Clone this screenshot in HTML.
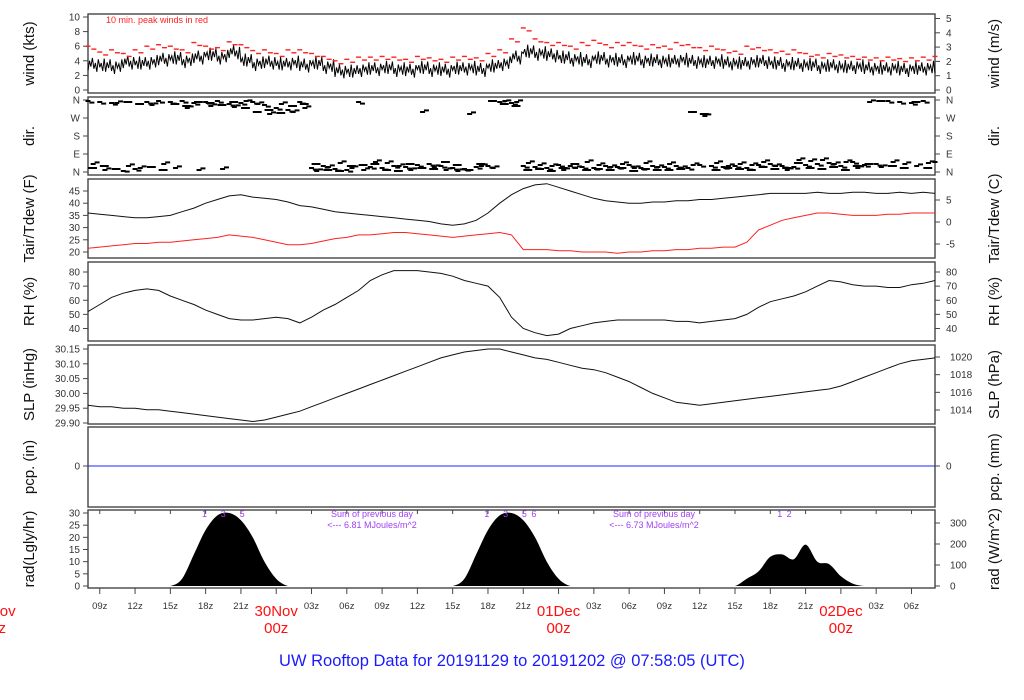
<!DOCTYPE html>
<html><head><meta charset="utf-8">
<style>
html,body{margin:0;padding:0;background:#fff;}
svg{display:block;font-family:"Liberation Sans",sans-serif;}
</style></head>
<body>
<svg id="chart" width="1024" height="700" viewBox="0 0 1024 700" xmlns="http://www.w3.org/2000/svg">
<text x="512" y="666" text-anchor="middle" font-size="16.5" fill="#1a1aff">UW Rooftop Data for 20191129  to  20191202 @ 07:58:05  (UTC)</text>
<text x="106" y="23" font-size="9" fill="#ff2020">10 min. peak winds in red</text>
</svg>
<script>
// hourly data from 08z 29 Nov (index 0) to 08z 02 Dec (index 72)
const windMean = [3.5,3.3,3.2,3.8,3.6,3.8,4.2,4.3,4.0,4.5,4.8,4.5,
 5.2,4.0,3.6,3.8,3.5,3.7,3.4,3.6,3.2,2.6,2.5,2.8,
 2.9,3.0,2.8,2.7,3.0,2.8,2.7,2.9,3.0,2.8,3.2,3.6,
 4.5,5.2,5.0,4.8,4.4,4.2,4.0,4.3,4.1,4.0,4.2,4.0,
 4.0,3.9,4.1,3.9,3.8,3.9,3.7,3.6,3.8,3.9,3.6,3.5,
 3.5,3.4,3.2,3.3,3.1,3.2,3.0,2.9,3.0,2.8,2.9,3.0,3.1];
const windPeak = [6.0,5.2,5.5,5.0,5.5,6.0,6.2,6.0,5.5,6.5,6.0,5.8,
 6.6,6.2,5.4,5.5,5.0,5.5,5.5,5.0,4.6,4.0,4.2,4.5,
 4.5,4.6,4.5,4.2,4.6,4.4,4.2,4.5,4.6,4.4,5.0,5.5,
 7.0,8.5,7.0,6.5,6.5,6.0,6.5,6.8,6.2,6.5,6.5,6.0,
 6.2,6.0,6.5,6.2,5.8,6.0,5.5,5.3,6.0,5.8,5.5,5.3,
 5.5,5.0,4.8,5.0,4.8,4.6,4.5,4.4,4.5,4.3,4.4,4.5,4.6];
const dirA = [355,350,345,5,15,350,355, 350,355,345,350,355,340, 345,350,335,320,310,350, 20,30,15,10,350,25,
 20,30,25,35,40,30,20,15,25,30,350,345, 30,25,20,35,30,25,20,30,25,35,20,30,
 25,30,20,35,30,25,30,20,35,40,30,25, 35,40,45,30,50,35,40,355,350,345,355,50];
const dirB = [20,30,15,350,340,25,10, 340,330,350,345,335,350, 320,300,310,295,330,340, 40,10,5,30,35,40,
 10,5,40,20,15,50,35,10,40,355,340,330, 10,15,5,20,40,10,15,10,20,5,15,10,
 10,15,300,290,10,20,15,10,25,15,20,45, 20,15,25,10,30,40,355,30,20,350,20,40];
const dirC = [40,10,345,30,20,335,40, 20,320,10,330,15,325, 355,340,290,340,300,320, 5,25,45,20,10,50,
 45,30,10,300,25,10,5,290,30,20,355,350, 45,35,30,10,20,50,35,25,40,20,45,25,
 40,20,35,280,45,30,40,35,50,30,10,60, 55,60,40,50,20,350,25,50,40,30,45,30];
const tair = [36,35.5,35,34.5,34,34,34.5,35,36.5,38,
 40,41.5,43,43.5,42.5,42,41.5,40.5,39,38.5,
 37.5,36.5,36,35.5,35,34.5,34,33.5,33,32.5,
 31.5,31,31.5,33,36,40,43.5,46,47.5,48,
 46.5,45,43.5,42,41,40.5,40,40,40.5,40.5,
 41,41,41.5,41.5,42,42.5,43,43.5,44,44,
 44,44,44.5,44,44,44.5,44.5,44,44,44.5,
 44,44.5,44];
const tdew = [21.5,22,22.5,23,23.5,23.5,24,24,24.5,25,
 25.5,26,27,26.5,26,25,24,23,23,23.5,
 24.5,25.5,26,27,27,27.5,28,28,27.5,27,
 26.5,26,26.5,27,27.5,28,27,21,21,21,
 20.5,20.5,20,20,20,19.5,20,20,20.5,20.5,
 21,21,21.5,21.5,22,22,24,29,31,33,
 34,35,36,36,35.5,35,35,35,35.5,35.5,
 36,36,36];
const rh = [52,57,62,65,67,68,67,63,60,57,
 53,50,47,46,46,47,48,47,44,48,
 53,57,62,67,74,78,81,81,81,80,
 79,77,74,72,70,62,48,40,37,35,
 36,40,42,44,45,46,46,46,46,46,
 45,45,44,45,46,47,50,55,59,61,
 63,66,70,74,73,71,70,70,69,69,
 71,72,74];
const slp = [29.96,29.955,29.955,29.95,29.95,29.945,29.945,29.94,29.935,29.93,
 29.925,29.92,29.915,29.91,29.905,29.91,29.92,29.93,29.94,29.955,
 29.97,29.985,30.0,30.015,30.03,30.045,30.06,30.075,30.09,30.105,
 30.12,30.13,30.14,30.145,30.15,30.15,30.14,30.13,30.12,30.115,
 30.105,30.095,30.085,30.08,30.07,30.055,30.04,30.02,30.0,29.985,
 29.97,29.965,29.96,29.965,29.97,29.975,29.98,29.985,29.99,29.995,
 30.0,30.005,30.01,30.015,30.025,30.04,30.055,30.07,30.085,30.1,
 30.11,30.115,30.12];
const pcp = new Array(73).fill(0);
const rad = [0,0,0,0,0,0,0,
 0,3,13,23,29,30,27,20,10,3,0,
 0,0,0,0,0,0,0,0,0,0,0,0,0,
 0,3,13,23,29,30,27,20,10,3,0,
 0,0,0,0,0,0,0,0,0,0,0,0,0,
 0,3,6,12,13,11,17,10,9,4,1,0,
 0,0,0,0,0,0];
const hourTicks = ["09z","12z","15z","18z","21z","","03z","06z","09z","12z","15z","18z","21z","","03z","06z","09z","12z","15z","18z","21z","","03z","06z"];
const dayLabels = ["29Nov","30Nov","01Dec","02Dec"];
const radMarks1 = ["1","3","5"], radMarks2 = ["1","3","5","6"], radMarks3 = ["1","2"];
const radSums = ["6.81","6.73"];

const NS="http://www.w3.org/2000/svg";
const svg=document.getElementById('chart');
const X0=88, X1=935, HOURS=72;
const xs=h=>X0+(X1-X0)*h/HOURS;
function el(tag,attrs,parent){const e=document.createElementNS(NS,tag);for(const k in attrs)e.setAttribute(k,attrs[k]);(parent||svg).appendChild(e);return e;}
function lin(d0,d1,r0,r1){return v=>r0+(v-d0)*(r1-r0)/(d1-d0);}
function txt(s,x,y,attrs,parent){const t=el('text',Object.assign({x:x,y:y,'font-size':10,fill:'#333'},attrs||{}),parent);t.textContent=s;return t;}

const panels=[
 {name:'wind',top:14,bot:93,l:'wind (kts)',r:'wind (m/s)'},
 {name:'dir',top:97,bot:175,l:'dir.',r:'dir.'},
 {name:'temp',top:179,bot:258,l:'Tair/Tdew (F)',r:'Tair/Tdew (C)'},
 {name:'rh',top:262,bot:341,l:'RH (%)',r:'RH (%)'},
 {name:'slp',top:345,bot:424,l:'SLP (inHg)',r:'SLP (hPa)'},
 {name:'pcp',top:427,bot:507,l:'pcp. (in)',r:'pcp. (mm)'},
 {name:'rad',top:510,bot:588,l:'rad(Lgly/hr)',r:'rad (W/m^2)'}];
const G={};
panels.forEach(p=>{
 const g=el('g',{});
 
 
 G[p.name]=g;
 const f=el('rect',{x:X0,y:p.top,width:X1-X0,height:p.bot-p.top,fill:'none',stroke:'#444','stroke-width':1.4},g);
 
 
 const cy=(p.top+p.bot)/2;
 const lt=txt(p.l,34,cy,{'font-size':15,fill:'#111','text-anchor':'middle',transform:`rotate(-90 34 ${cy})`},g);
 
 
 const rt=txt(p.r,999,cy,{'font-size':15,fill:'#111','text-anchor':'middle',transform:`rotate(-90 999 ${cy})`},g);
 
 
});
function leftTicks(g,vals,labels,sc){vals.forEach((v,i)=>{const y=sc(v);el('line',{x1:X0-5,x2:X0,y1:y,y2:y,stroke:'#444'},g);const t=txt(labels[i],80,y+3.5,{'text-anchor':'end'},g);});}
function rightTicks(g,vals,labels,sc,lx){vals.forEach((v,i)=>{const y=sc(v);el('line',{x1:X1,x2:X1+5,y1:y,y2:y,stroke:'#444'},g);const t=txt(labels[i],lx||946,y+3.5,{'text-anchor':'start'},g);});}
function pathOf(arr,sc){return arr.map((v,i)=>(i?'L':'M')+xs(i).toFixed(1)+','+sc(v).toFixed(1)).join('');}

// wind
const yW=lin(0,10,90,17), yMs=lin(0,5,90,18.5);
leftTicks(G.wind,[0,2,4,6,8,10],['0','2','4','6','8','10'],yW);
rightTicks(G.wind,[0,1,2,3,4,5],['0','1','2','3','4','5'],yMs);
const jit=[-0.8,0.5,-0.3,0.9,-0.6,0.2,-1.0,0.7,-0.2,0.4,-0.7,1.0];
let wd='';
windMean.forEach((v,i)=>{for(let k=0;k<8;k++){const h=i+k/8;if(h>HOURS)break;const o=jit[(i*8+k)%jit.length];wd+=(wd?'L':'M')+xs(h).toFixed(1)+','+yW(v+o).toFixed(1);}});
const wl=el('path',{d:wd,fill:'none',stroke:'#000','stroke-width':1},G.wind);


windPeak.forEach((v,i)=>{[0,0.5].forEach((dh,k)=>{const h=i+dh;if(h>HOURS)return;const r=el('rect',{x:xs(h)-2.5,y:yW(v+(k?-0.4:0))-0.7,width:5,height:1.4,fill:'#ff2020'},G.wind);});});

// dir
const yD=lin(0,360,172,100);
leftTicks(G.dir,[0,90,180,270,360],['N','E','S','W','N'],yD);
rightTicks(G.dir,[0,90,180,270,360],['N','E','S','W','N'],yD);
[dirA,dirB,dirC].forEach((arr,s)=>{arr.forEach((v,i)=>{[0,0.33].forEach((dh,k)=>{const h=i+s*0.22+dh;if(h>HOURS)return;const vv=Math.min(358,Math.max(2,v+(k?(s-1)*8:0)));const r=el('rect',{x:xs(h)-2.5,y:yD(vv)-1,width:5,height:2,fill:'#000'},G.dir);});});});

// temp
const yT=lin(20,45,252,191), yC=lin(0,5,222,200);
leftTicks(G.temp,[20,25,30,35,40,45],['20','25','30','35','40','45'],yT);
rightTicks(G.temp,[-5,0,5],['-5','0','5'],yC);
const ta=el('path',{d:pathOf(tair,yT),fill:'none',stroke:'#111','stroke-width':1},G.temp);

const td=el('path',{d:pathOf(tdew,yT),fill:'none',stroke:'#ff2020','stroke-width':1},G.temp);


// rh
const yR=lin(40,80,328.5,272);
leftTicks(G.rh,[40,50,60,70,80],['40','50','60','70','80'],yR);
rightTicks(G.rh,[40,50,60,70,80],['40','50','60','70','80'],yR);
const rl=el('path',{d:pathOf(rh,yR),fill:'none',stroke:'#111','stroke-width':1},G.rh);


// slp
const yS=lin(29.90,30.15,423,349), yH=lin(1014,1020,410,357);
leftTicks(G.slp,[29.90,29.95,30.00,30.05,30.10,30.15],['29.90','29.95','30.00','30.05','30.10','30.15'],yS);
rightTicks(G.slp,[1014,1016,1018,1020],['1014','1016','1018','1020'],yH,950);
const sl=el('path',{d:pathOf(slp,yS),fill:'none',stroke:'#111','stroke-width':1},G.slp);


// pcp
const yP=lin(0,1,466,400);
leftTicks(G.pcp,[0],['0'],yP);
rightTicks(G.pcp,[0],['0'],yP);
const pl=el('path',{d:pathOf(pcp,yP),fill:'none',stroke:'#2222ff','stroke-width':1},G.pcp);


// rad
const yRad=lin(0,30,586,513), yWm=lin(0,300,586,523);
leftTicks(G.rad,[0,5,10,15,20,25,30],['0','5','10','15','20','25','30'],yRad);
rightTicks(G.rad,[0,100,200,300],['0','100','200','300'],yWm,950);
let rd='M'+xs(0)+','+yRad(0);
const pts=rad.map((v,i)=>[xs(i),yRad(v)]);
for(let i=0;i<pts.length-1;i++){const p0=pts[Math.max(0,i-1)],p1=pts[i],p2=pts[i+1],p3=pts[Math.min(pts.length-1,i+2)];
 const c1=[p1[0]+(p2[0]-p0[0])/6,Math.min(yRad(0),p1[1]+(p2[1]-p0[1])/6)],c2=[p2[0]-(p3[0]-p1[0])/6,Math.min(yRad(0),p2[1]-(p3[1]-p1[1])/6)];
 rd+=`C${c1[0].toFixed(1)},${c1[1].toFixed(1)} ${c2[0].toFixed(1)},${c2[1].toFixed(1)} ${p2[0].toFixed(1)},${p2[1].toFixed(1)}`;}
rd+='L'+xs(HOURS)+','+yRad(0)+'Z';
const ra=el('path',{d:rd,fill:'#000',stroke:'none'},G.rad);

for(let h=1;h<=HOURS;h+=3){el('line',{x1:xs(h),x2:xs(h),y1:510,y2:514,stroke:'#444'},G.rad);}
function marks(arr,h0){arr.forEach((s)=>{const m=txt(s,xs(h0+(+s-1)*0.8),517,{'font-size':9,fill:'#a040f0','text-anchor':'middle'},G.rad);});}
marks(radMarks1,9.9);marks(radMarks2,33.9);marks(radMarks3,58.8);
[[radSums[0],372],[radSums[1],654]].forEach(([s,x])=>{
 const a=txt('Sum of previous day',x,517,{'font-size':9,fill:'#a040f0','text-anchor':'middle'},G.rad);
 const b=txt('<--- '+s+' MJoules/m^2',x,528,{'font-size':9,fill:'#a040f0','text-anchor':'middle'},G.rad);});

// bottom x axis
hourTicks.forEach((s,i)=>{const h=1+i*3,x=xs(h);el('line',{x1:x,x2:x,y1:588,y2:594,stroke:'#444'});
 if(s){const t=txt(s,x,609,{'font-size':9.5,'text-anchor':'middle'});}});
dayLabels.forEach((s,i)=>{const x=xs(-8+24*i);
 const a=txt(s,x,616,{'font-size':15,fill:'#ff1010','text-anchor':'middle'});
 const b=txt('00z',x,633,{'font-size':15,fill:'#ff1010','text-anchor':'middle'});});
</script>
</body></html>
